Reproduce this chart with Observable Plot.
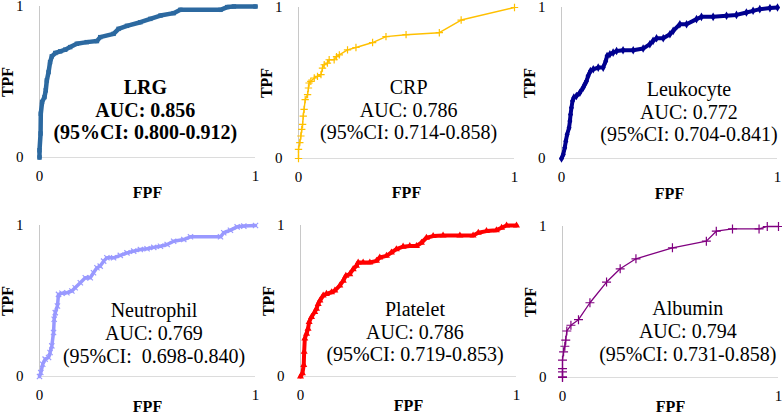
<!DOCTYPE html>
<html><head><meta charset="utf-8">
<script src="https://cdn.jsdelivr.net/npm/d3@7"></script>
<script src="https://cdn.jsdelivr.net/npm/@observablehq/plot@0.6"></script>
<style>
body{margin:0;background:#fff}
#chart{position:relative;width:782px;height:416px;overflow:hidden;background:#fff}
#chart svg{position:absolute;overflow:visible}
</style></head><body><div id="chart"></div>
<script>
const markers = ["LRG", "CRP", "Leukocyte", "Neutrophil", "Platelet", "Albumin"];
const aucs = ["0.856", "0.786", "0.772", "0.769", "0.786", "0.794"];
const cis = ["0.800-0.912", "0.714-0.858", "0.704-0.841", "\u00a00.698-0.840", "0.719-0.853", "0.731-0.858"];
const tickValues = [0, 1];
const xLabel = "FPF";
const yLabel = "TPF";

// ROC points [FPF, TPF]
const lrgROC = [[0,0],[0,0.048],[0.005,0.159],[0.006,0.29],[0.012,0.368],[0.023,0.40],[0.029,0.445],[0.034,0.511],[0.042,0.566],[0.049,0.632],[0.057,0.67],[0.073,0.692],[0.096,0.703],[0.119,0.714],[0.142,0.731],[0.173,0.753],[0.219,0.764],[0.266,0.771],[0.281,0.797],[0.343,0.819],[0.366,0.852],[0.405,0.872],[0.467,0.896],[0.513,0.918],[0.56,0.94],[0.621,0.956],[0.652,0.978],[0.838,0.978],[0.869,0.996],[0.9,1],[1,1]];
const crpROC = [[0,0],[0,0.061],[0.006,0.105],[0.011,0.149],[0.015,0.193],[0.019,0.226],[0.022,0.281],[0.026,0.325],[0.031,0.39],[0.042,0.423],[0.046,0.467],[0.049,0.5],[0.057,0.511],[0.073,0.533],[0.088,0.544],[0.104,0.555],[0.111,0.599],[0.119,0.621],[0.134,0.632],[0.142,0.654],[0.165,0.654],[0.176,0.675],[0.189,0.686],[0.227,0.719],[0.266,0.735],[0.343,0.768],[0.405,0.807],[0.498,0.82],[0.652,0.833],[0.753,0.917],[1,1]];
const leukROC = [[0,0],[0.008,0.027],[0.015,0.071],[0.02,0.115],[0.026,0.159],[0.035,0.204],[0.039,0.248],[0.042,0.292],[0.046,0.336],[0.051,0.381],[0.057,0.403],[0.069,0.414],[0.085,0.436],[0.1,0.469],[0.108,0.491],[0.116,0.513],[0.123,0.546],[0.134,0.58],[0.147,0.591],[0.17,0.602],[0.193,0.602],[0.205,0.646],[0.211,0.679],[0.224,0.69],[0.239,0.701],[0.255,0.712],[0.285,0.717],[0.332,0.717],[0.378,0.728],[0.409,0.757],[0.424,0.779],[0.44,0.796],[0.471,0.796],[0.502,0.823],[0.517,0.845],[0.548,0.889],[0.579,0.889],[0.625,0.923],[0.648,0.938],[0.702,0.938],[0.764,0.945],[0.81,0.951],[0.856,0.967],[0.887,0.978],[0.918,0.989],[0.965,0.996],[1,1]];
const neutROC = [[0,0],[0.006,0.026],[0.015,0.081],[0.026,0.115],[0.042,0.126],[0.049,0.159],[0.057,0.203],[0.065,0.291],[0.068,0.379],[0.073,0.423],[0.083,0.467],[0.088,0.544],[0.104,0.551],[0.127,0.555],[0.15,0.566],[0.165,0.588],[0.189,0.621],[0.212,0.654],[0.235,0.654],[0.25,0.687],[0.266,0.72],[0.281,0.731],[0.297,0.764],[0.312,0.786],[0.343,0.786],[0.374,0.802],[0.405,0.819],[0.436,0.83],[0.467,0.841],[0.498,0.846],[0.529,0.855],[0.56,0.863],[0.591,0.874],[0.621,0.896],[0.668,0.907],[0.699,0.925],[0.838,0.925],[0.853,0.952],[0.884,0.969],[0.915,0.991],[0.946,0.996],[1,1]];
const pltROC = [[0,0],[0.009,0.022],[0.015,0.077],[0.017,0.164],[0.02,0.252],[0.028,0.284],[0.035,0.317],[0.04,0.361],[0.051,0.394],[0.066,0.427],[0.074,0.449],[0.082,0.481],[0.09,0.503],[0.105,0.536],[0.12,0.547],[0.144,0.558],[0.159,0.569],[0.182,0.602],[0.198,0.635],[0.21,0.667],[0.228,0.678],[0.244,0.711],[0.259,0.733],[0.267,0.755],[0.29,0.755],[0.321,0.755],[0.352,0.766],[0.367,0.788],[0.398,0.799],[0.421,0.821],[0.444,0.843],[0.475,0.86],[0.506,0.864],[0.537,0.864],[0.56,0.886],[0.583,0.919],[0.614,0.93],[0.66,0.934],[0.738,0.934],[0.799,0.934],[0.823,0.952],[0.861,0.963],[0.907,0.969],[0.931,0.985],[0.954,1],[1,1]];
const albROC = [[0,0],[0,0.004],[0,0.037],[0,0.059],[0,0.115],[0.005,0.17],[0.011,0.207],[0.015,0.247],[0.02,0.308],[0.039,0.346],[0.074,0.383],[0.127,0.495],[0.204,0.632],[0.267,0.72],[0.34,0.786],[0.509,0.859],[0.666,0.903],[0.712,0.969],[0.787,0.984],[0.91,0.984],[0.948,1],[1,1]];
const rocs = [lrgROC, crpROC, leukROC, neutROC, pltROC, albROC];

// layout / style per panel
const panels = [
  {left: 0, top: 0, xlDy: 35, color: "#2C69A0", symbol: "square", r: 2.5, sw: 4.5, filled: true, tx: 0.49, ty: 0.318, bold: true},
  {left: 259, top: 1, xlDy: 34, color: "#FFC000", symbol: "plus", r: 2.5, sw: 1.4, filled: false, tx: 0.51, ty: 0.325, bold: false},
  {left: 522, top: 1, xlDy: 35, color: "#00008F", symbol: "diamond", r: 2.6, sw: 4, filled: true, tx: 0.59, ty: 0.311, bold: false},
  {left: 0, top: 219, xlDy: 30, color: "#9999FF", symbol: "times", r: 2.5, sw: 3.5, filled: false, tx: 0.53, ty: 0.29, bold: false},
  {left: 261, top: 219, xlDy: 29, color: "#FF0000", symbol: "triangle", r: 2.6, sw: 4, filled: true, tx: 0.53, ty: 0.298, bold: false},
  {left: 523, top: 220, xlDy: 29, color: "#800080", symbol: "plus", r: 3, sw: 1.3, filled: false, tx: 0.58, ty: 0.31, bold: false}
];

const font = "Liberation Serif, DejaVu Serif, serif";
const W = 216, H = 151, mL = 39, mR = 6, mT = 6, mB = 50;
const chart = document.getElementById("chart");

panels.forEach((p, i) => {
  const data = rocs[i].map(([x, y]) => ({x, y}));
  const label = `${markers[i]}\nAUC: ${aucs[i]}\n(95%CI: ${cis[i]})`;
  const dotOpts = p.filled
    ? {x: "x", y: "y", symbol: p.symbol, r: p.r, fill: p.color, stroke: "none"}
    : {x: "x", y: "y", symbol: p.symbol, r: p.r, stroke: p.color, strokeWidth: 1.2, fill: "none"};
  const svg = Plot.plot({
    width: W + mL + mR, height: H + mT + mB,
    marginLeft: mL, marginRight: mR, marginTop: mT, marginBottom: mB,
    x: {domain: [0, 1]},
    y: {domain: [0, 1]},
    marks: [
      Plot.ruleX([0], {stroke: "#c8c8c8", strokeWidth: 1}),
      Plot.ruleY([0], {stroke: "#dcdcdc", strokeWidth: 1}),
      Plot.axisX({ticks: tickValues, tickSize: 0, tickPadding: 13, label: null, fontSize: 15, fontFamily: font, tickFormat: d => String(d)}),
      Plot.axisY({ticks: tickValues, tickSize: 0, tickPadding: 16, label: null, fontSize: 15, fontFamily: font, tickFormat: d => String(d)}),
      Plot.text([xLabel], {frameAnchor: "bottom", lineAnchor: "middle", textAnchor: "middle", dy: p.xlDy, fontWeight: "bold", fontSize: 16, fontFamily: font, fill: "#000"}),
      Plot.text([yLabel], {frameAnchor: "left", lineAnchor: "middle", textAnchor: "middle", dx: -32, rotate: -90, fontWeight: "bold", fontSize: 16, fontFamily: font, fill: "#000"}),
      Plot.line(data, {x: "x", y: "y", stroke: p.color, strokeWidth: p.sw}),
      Plot.dot(data, dotOpts),
      Plot.text([{t: label, x: p.tx, y: p.ty}], {x: "x", y: "y", text: "t", fontSize: 20, lineHeight: 1.13, fontFamily: font, fontWeight: p.bold ? "bold" : "normal", fill: "#000"})
    ]
  });
  svg.style.left = p.left + "px";
  svg.style.top = p.top + "px";
  svg.style.fontFamily = font;
  svg.style.color = "#000";
  svg.style.background = "transparent";
  chart.appendChild(svg);
});
</script></body></html>
